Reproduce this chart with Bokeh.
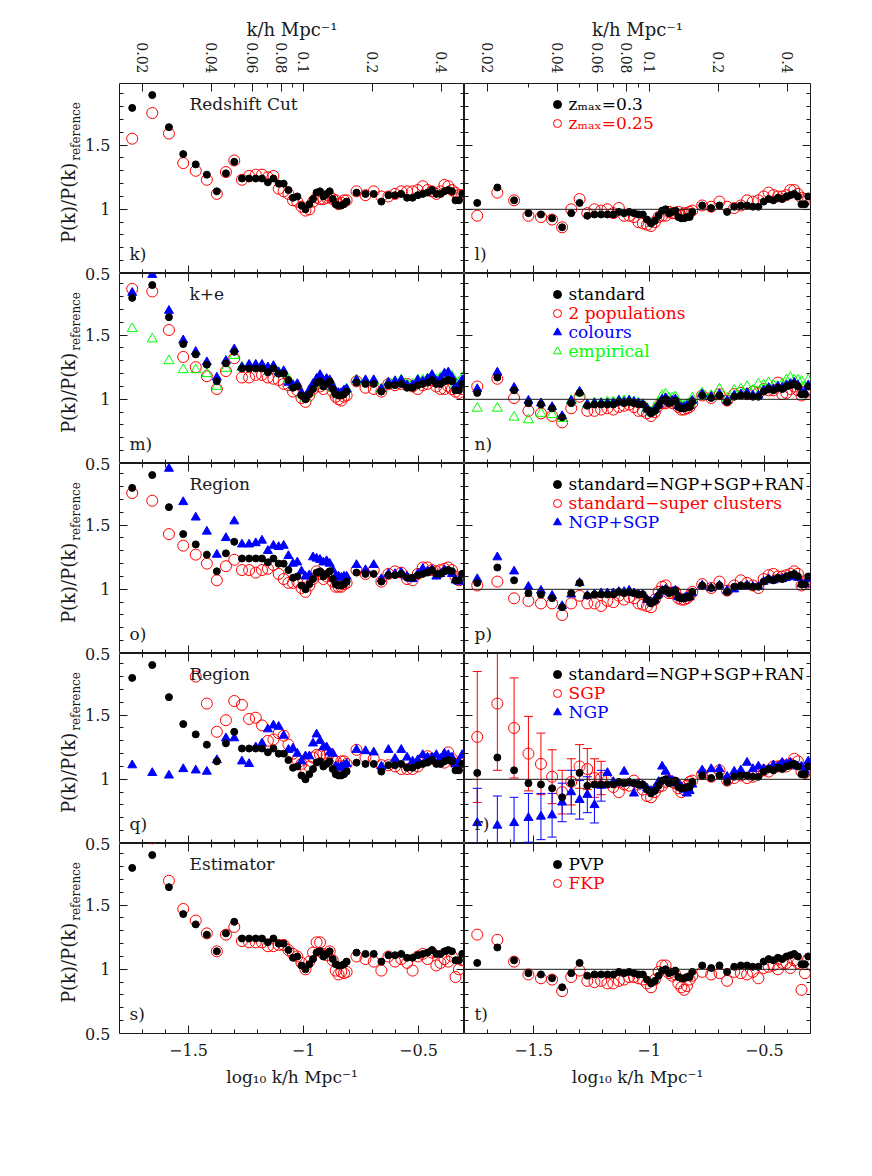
import math
import numpy as np
from bokeh.plotting import figure
from bokeh.layouts import column, row
from bokeh.models import (Range1d, LinearAxis, FixedTicker, CustomJSTickFormatter,
                          Label, Span, Legend, LegendItem, ColumnDataSource)
from bokeh.core.properties import value
from bokeh.embed import file_html
from bokeh.resources import INLINE

# ---------------- data ----------------
# k bins (h/Mpc)
K_BINS = [0.018, 0.022, 0.026, 0.030, 0.034, 0.038, 0.042, 0.046, 0.050, 0.054,
          0.058, 0.062, 0.066, 0.070, 0.074, 0.078, 0.082, 0.086, 0.090, 0.094,
          0.098, 0.102, 0.106, 0.110, 0.114, 0.118, 0.122, 0.126, 0.130, 0.134,
          0.138, 0.142, 0.146, 0.150, 0.154,
          0.170, 0.186, 0.202, 0.218, 0.234, 0.250, 0.266, 0.282, 0.298, 0.314,
          0.330, 0.346, 0.362, 0.378, 0.394, 0.410, 0.426, 0.442, 0.458, 0.474, 0.490]

# standard ratio, left column
STD_LEFT = [1.79, 1.89, 1.64, 1.43, 1.35, 1.27, 1.14, 1.28, 1.37, 1.24,
            1.24, 1.24, 1.24, 1.21, 1.24, 1.20, 1.20, 1.15, 1.09, 1.10,
            1.03, 1.00, 1.04, 1.08, 1.13, 1.14, 1.10, 1.12, 1.14, 1.08,
            1.04, 1.03, 1.03, 1.04, 1.06,
            1.13, 1.12, 1.12, 1.06, 1.11, 1.11, 1.12, 1.09, 1.09, 1.11,
            1.12, 1.13, 1.15, 1.12, 1.12, 1.14, 1.15, 1.14, 1.07, 1.07, 1.12]
# standard ratio, right column
STD_RIGHT = [1.05, 1.17, 1.07, 0.97, 0.96, 0.93, 0.86, 0.97, 1.05, 0.95,
             0.96, 0.96, 0.96, 0.96, 0.98, 0.97, 0.98, 0.97, 0.96, 0.96,
             0.92, 0.89, 0.91, 0.95, 0.99, 1.00, 0.97, 0.98, 0.99, 0.94,
             0.93, 0.93, 0.94, 0.94, 0.98,
             1.03, 1.01, 1.03, 0.98, 1.02, 1.03, 1.03, 1.02, 1.02, 1.06,
             1.08, 1.07, 1.09, 1.08, 1.10, 1.11, 1.12, 1.10, 1.04, 1.04, 1.10]

# k) / l) redshift cut z_max = 0.25
RED_K = [1.55, 1.75, 1.59, 1.36, 1.30, 1.23, 1.12, 1.29, 1.38, 1.23,
         1.26, 1.27, 1.27, 1.25, 1.26, 1.16, 1.14, 1.12, 1.07, 1.06,
         1.02, 0.99, 1.00, 1.06, 1.09, 1.08, 1.08, 1.09, 1.10, 1.08,
         1.07, 1.04, 1.05, 1.07, 1.07,
         1.14, 1.11, 1.14, 1.10, 1.10, 1.12, 1.14, 1.14, 1.14, 1.15,
         1.18, 1.15, 1.14, 1.12, 1.14, 1.19, 1.18, 1.15, 1.13, 1.11, 1.11]
RED_L = [0.95, 1.13, 1.07, 0.95, 0.94, 0.92, 0.86, 1.00, 1.08, 0.97,
         1.00, 0.99, 1.00, 0.97, 1.01, 0.95, 0.95, 0.94, 0.90, 0.89,
         0.88, 0.87, 0.90, 0.94, 0.95, 0.95, 0.98, 0.97, 0.97, 0.98,
         0.95, 0.97, 0.97, 0.98, 0.99,
         1.03, 1.02, 1.06, 1.02, 1.01, 1.03, 1.07, 1.06, 1.07, 1.10,
         1.13, 1.11, 1.10, 1.10, 1.11, 1.15, 1.15, 1.12, 1.09, 1.08, 1.08]

# m) / n) k+e corrections
RED_M = [1.86, 1.84, 1.54, 1.33, 1.25, 1.18, 1.08, 1.22, 1.32, 1.17,
         1.17, 1.19, 1.19, 1.17, 1.16, 1.15, 1.12, 1.11, 1.06, 1.07,
         1.01, 0.98, 1.03, 1.08, 1.12, 1.10, 1.08, 1.12, 1.11, 1.06,
         1.02, 1.00, 0.99, 1.02, 1.03,
         1.14, 1.09, 1.08, 1.06, 1.12, 1.11, 1.12, 1.12, 1.10, 1.08,
         1.11, 1.12, 1.15, 1.10, 1.08, 1.08, 1.10, 1.08, 1.06, 1.05, 1.08]
BLUE_M = [1.83, 1.97, 1.69, 1.46, 1.37, 1.29, 1.17, 1.30, 1.39, 1.25,
          1.27, 1.27, 1.27, 1.25, 1.26, 1.21, 1.22, 1.13, 1.11, 1.12,
          1.05, 1.02, 1.07, 1.12, 1.16, 1.19, 1.14, 1.16, 1.15, 1.10,
          1.06, 1.05, 1.05, 1.07, 1.08,
          1.15, 1.15, 1.15, 1.08, 1.13, 1.14, 1.15, 1.11, 1.11, 1.15,
          1.14, 1.16, 1.19, 1.14, 1.16, 1.20, 1.21, 1.17, 1.10, 1.11, 1.15]
GREEN_M = [1.55, 1.47, 1.30, 1.23, 1.23, 1.20, 1.10, 1.24, 1.34, 1.25,
           1.26, 1.26, 1.26, 1.24, 1.25, 1.21, 1.20, 1.15, 1.11, 1.10,
           1.04, 1.01, 1.05, 1.10, 1.15, 1.17, 1.12, 1.15, 1.14, 1.09,
           1.05, 1.04, 1.04, 1.06, 1.08,
           1.15, 1.14, 1.14, 1.08, 1.13, 1.14, 1.15, 1.12, 1.12, 1.15,
           1.15, 1.16, 1.18, 1.15, 1.17, 1.20, 1.20, 1.18, 1.12, 1.13, 1.17]
RED_N = [1.10, 1.16, 1.01, 0.91, 0.89, 0.87, 0.82, 0.93, 1.02, 0.91,
         0.91, 0.92, 0.93, 0.92, 0.94, 0.95, 0.96, 0.94, 0.91, 0.91,
         0.89, 0.87, 0.90, 0.95, 0.97, 0.97, 0.98, 0.97, 0.98, 0.94,
         0.92, 0.92, 0.93, 0.94, 0.97,
         1.03, 1.01, 1.04, 0.99, 1.04, 1.05, 1.04, 1.06, 1.05, 1.08,
         1.07, 1.07, 1.13, 1.04, 1.05, 1.08, 1.10, 1.07, 1.03, 1.06, 1.06]
BLUE_N = [1.08, 1.21, 1.09, 0.99, 0.97, 0.94, 0.87, 0.99, 1.06, 0.96,
          0.97, 0.97, 0.97, 0.97, 0.99, 0.98, 0.99, 0.98, 0.97, 0.96,
          0.93, 0.90, 0.92, 0.96, 1.00, 1.01, 0.98, 0.99, 1.00, 0.95,
          0.94, 0.94, 0.95, 0.95, 0.99,
          1.04, 1.02, 1.04, 0.99, 1.03, 1.04, 1.05, 1.03, 1.03, 1.07,
          1.09, 1.08, 1.10, 1.09, 1.11, 1.12, 1.13, 1.11, 1.05, 1.05, 1.11]
GREEN_N = [0.93, 0.93, 0.86, 0.84, 0.89, 0.88, 0.85, 0.99, 1.05, 0.96,
           0.97, 0.97, 0.98, 0.98, 0.99, 0.99, 0.99, 0.98, 0.97, 0.96,
           0.93, 0.90, 0.93, 0.98, 1.03, 1.04, 1.01, 1.01, 1.02, 0.97,
           0.95, 0.95, 0.96, 0.97, 1.01,
           1.05, 1.03, 1.08, 1.01, 1.07, 1.08, 1.10, 1.07, 1.12, 1.11,
           1.13, 1.11, 1.10, 1.12, 1.15, 1.17, 1.15, 1.15, 1.14, 1.10, 1.15]

# o) / p) region: super clusters removed, NGP+SGP
RED_O = [1.75, 1.69, 1.43, 1.34, 1.27, 1.20, 1.07, 1.18, 1.23, 1.15,
         1.15, 1.13, 1.15, 1.16, 1.19, 1.12, 1.08, 1.05, 1.05, 1.06,
         1.01, 0.98, 1.03, 1.08, 1.14, 1.12, 1.08, 1.10, 1.12, 1.06,
         1.02, 1.02, 1.02, 1.04, 1.05,
         1.15, 1.12, 1.15, 1.06, 1.12, 1.14, 1.13, 1.08, 1.07, 1.12,
         1.17, 1.17, 1.15, 1.14, 1.15, 1.16, 1.17, 1.15, 1.10, 1.07, 1.10]
BLUE_O = [2.05, 2.20, 1.94, 1.68, 1.56, 1.45, 1.27, 1.40, 1.53, 1.35,
          1.35, 1.36, 1.38, 1.30, 1.34, 1.33, 1.34, 1.26, 1.20, 1.21,
          1.14, 1.10, 1.11, 1.25, 1.24, 1.23, 1.21, 1.22, 1.20, 1.15,
          1.10, 1.10, 1.09, 1.10, 1.10,
          1.19, 1.15, 1.19, 1.08, 1.12, 1.12, 1.13, 1.10, 1.08, 1.12,
          1.16, 1.14, 1.15, 1.10, 1.12, 1.15, 1.14, 1.12, 1.07, 1.06, 1.11]
RED_P = [1.03, 1.06, 0.93, 0.91, 0.89, 0.89, 0.80, 0.89, 0.95, 0.89,
         0.89, 0.87, 0.91, 0.90, 0.95, 0.92, 0.94, 0.93, 0.89, 0.88,
         0.87, 0.86, 0.92, 0.98, 1.02, 1.03, 0.97, 0.97, 0.98, 0.93,
         0.92, 0.92, 0.93, 0.95, 0.98,
         1.04, 1.01, 1.06, 0.99, 1.03, 1.07, 1.05, 1.03, 1.01, 1.08,
         1.11, 1.12, 1.10, 1.10, 1.11, 1.12, 1.14, 1.12, 1.03, 1.04, 1.08]
BLUE_P = [1.08, 1.25, 1.14, 1.02, 0.99, 0.95, 0.87, 0.96, 1.05, 0.95,
          0.96, 0.97, 0.97, 0.97, 0.98, 0.98, 0.99, 0.97, 0.96, 0.96,
          0.92, 0.90, 0.92, 0.96, 0.99, 1.00, 0.98, 0.98, 0.99, 0.94,
          0.93, 0.93, 0.94, 0.94, 0.97,
          1.03, 1.01, 1.03, 0.99, 1.00, 1.02, 1.03, 1.02, 1.02, 1.06,
          1.08, 1.07, 1.08, 1.08, 1.09, 1.10, 1.10, 1.09, 1.04, 1.04, 1.08]

# q) / r) region: SGP and NGP separately
RED_Q = [2.30, 2.50, 2.40, 2.20, 1.80, 1.59, 1.37, 1.46, 1.61, 1.58,
         1.47, 1.48, 1.42, 1.30, 1.31, 1.36, 1.34, 1.27, 1.20, 1.15,
         1.12, 1.07, 1.10, 1.17, 1.19, 1.19, 1.20, 1.19, 1.20, 1.15,
         1.14, 1.10, 1.14, 1.14, 1.12,
         1.23, 1.17, 1.16, 1.11, 1.11, 1.10, 1.08, 1.08, 1.08, 1.10,
         1.16, 1.18, 1.16, 1.15, 1.14, 1.13, 1.21, 1.16, 1.12, 1.10, 1.12]
BLUE_Q = [1.11, 1.05, 1.03, 1.08, 1.07, 1.06, 1.15, 1.32, 1.32, 1.14,
          1.12, 1.25, 1.28, 1.39, 1.42, 1.41, 1.34, 1.23, 1.24, 1.20,
          1.14, 1.18, 1.18, 1.28, 1.35, 1.30, 1.25, 1.25, 1.21, 1.20,
          1.10, 1.09, 1.10, 1.11, 1.12,
          1.23, 1.22, 1.21, 1.10, 1.23, 1.16, 1.23, 1.17, 1.14, 1.15,
          1.19, 1.17, 1.17, 1.19, 1.16, 1.20, 1.19, 1.17, 1.12, 1.14, 1.19]
RED_R = [1.33, 1.59, 1.40, 1.20, 1.12, 1.02, 0.90, 0.98, 1.10, 1.08,
         1.01, 1.01, 0.99, 0.94, 0.90, 0.96, 0.95, 0.99, 0.96, 0.92,
         0.87, 0.86, 0.90, 0.94, 0.95, 0.98, 0.99, 0.98, 0.97, 0.93,
         0.90, 0.92, 0.95, 0.98, 0.99,
         1.04, 1.02, 1.07, 0.99, 1.01, 1.03, 1.01, 1.02, 1.05, 1.07,
         1.06, 1.10, 1.10, 1.11, 1.10, 1.12, 1.16, 1.14, 1.06, 1.05, 1.08]
BLUE_R = [0.66, 0.64, 0.66, 0.70, 0.71, 0.72, 0.82, 0.90, 0.84, 0.88,
          0.80, 0.95, 1.05, 0.98, 0.97, 1.06, 0.97, 0.89, 0.96, 0.95,
          0.93, 0.91, 0.93, 0.98, 1.10, 1.06, 1.00, 0.99, 0.97, 0.97,
          0.94, 0.92, 0.89, 0.91, 0.96,
          1.07, 1.08, 1.08, 1.02, 1.06, 1.07, 1.13, 1.08, 1.10, 1.08,
          1.08, 1.11, 1.10, 1.13, 1.12, 1.13, 1.11, 1.10, 1.10, 1.07, 1.14]
# 1-sigma errors on the first bins of r)
SGP_ERR = [0.51, 0.52, 0.39, 0.29, 0.24, 0.21, 0.17, 0.18, 0.17, 0.16, 0.15, 0.13]
NGP_ERR = [0.27, 0.23, 0.20, 0.19, 0.18, 0.17, 0.15, 0.17, 0.15, 0.14, 0.14, 0.12]

# s) / t) estimator: FKP
RED_S = [2.16, 2.02, 1.69, 1.47, 1.38, 1.28, 1.14, 1.27, 1.33, 1.22,
         1.21, 1.21, 1.21, 1.18, 1.18, 1.19, 1.19, 1.15, 1.12, 1.10,
         1.05, 1.00, 1.06, 1.13, 1.21, 1.21, 1.12, 1.11, 1.14, 1.07,
         0.99, 0.96, 0.98, 0.97, 0.98,
         1.10, 1.08, 1.06, 0.99, 1.10, 1.06, 1.08, 1.05, 0.99, 1.10,
         1.12, 1.08, 1.13, 1.03, 1.05, 1.08, 1.06, 1.10, 0.94, 1.00, 1.07]
RED_T = [1.27, 1.23, 1.06, 0.96, 0.93, 0.92, 0.83, 0.94, 0.99, 0.91,
         0.90, 0.91, 0.89, 0.89, 0.91, 0.92, 0.94, 0.94, 0.93, 0.92,
         0.89, 0.86, 0.92, 0.98, 1.03, 1.03, 0.97, 0.95, 0.96, 0.89,
         0.86, 0.84, 0.87, 0.92, 0.95,
         0.98, 0.96, 0.97, 0.91, 0.98, 0.97, 0.96, 0.98, 0.93, 1.01,
         1.02, 1.03, 1.00, 1.05, 1.05, 1.01, 1.07, 1.05, 0.84, 0.97, 1.08]

TITLES = ["Redshift Cut", "k+e", "Region", "Region", "Estimator"]
LETTERS = [("k)", "l)"), ("m)", "n)"), ("o)", "p)"), ("q)", "r)"), ("s)", "t)")]
K_MAJOR = [0.02, 0.04, 0.06, 0.08, 0.1, 0.2, 0.4]
K_MINOR = [0.03, 0.05, 0.07, 0.09, 0.3]
Y_MAJOR = [0.5, 1.0, 1.5]

# ---------------- styling ----------------
FONT = "DejaVu Serif"
INK = "#1a1a1a"
XMIN, XMAX = -1.8, -0.3
YMIN, YMAX = 0.5, 1.98
HSPAN = YMAX - YMIN
NROWS = 5
STRIP_W = 119
FRAME_W = (345, 346)
FRAME_H = 190
PX_PER_UNIT = FRAME_H / HSPAN
RIGHT_B, TOP_B, BOTTOM_B = 40, 83, 100

X_MAJOR = [-1.5, -1.0, -0.5]
X_MINOR = [round(-1.7 + 0.1 * i, 1) for i in range(14)]
Y_MINOR = [round(0.6 + 0.1 * i, 1) for i in range(14)]

STYLE = {
    "black": dict(marker="circle", size=7, fill_color="black", line_color="black", line_width=1),
    "red": dict(marker="circle", size=11, fill_color=None, line_color="#ff0000", line_width=1),
    "blue": dict(marker="triangle", size=9, fill_color="#0000ff", line_color="#0000ff", line_width=1),
    "green": dict(marker="triangle", size=10, fill_color=None, line_color="#00ff00", line_width=1),
}
TEXT_COLOR = {"black": "black", "red": "#ff0000", "blue": "#0000ff", "green": "#00ff00"}
ORDER = ["red", "green", "blue", "black"]

PANELS = [
    ({"red": RED_K, "black": STD_LEFT},
     {"red": RED_L, "black": STD_RIGHT},
     [("black", "z\u2098\u2090\u2093=0.3"), ("red", "z\u2098\u2090\u2093=0.25")]),
    ({"red": RED_M, "green": GREEN_M, "blue": BLUE_M, "black": STD_LEFT},
     {"red": RED_N, "green": GREEN_N, "blue": BLUE_N, "black": STD_RIGHT},
     [("black", "standard"), ("red", "2 populations"), ("blue", "colours"), ("green", "empirical")]),
    ({"red": RED_O, "blue": BLUE_O, "black": STD_LEFT},
     {"red": RED_P, "blue": BLUE_P, "black": STD_RIGHT},
     [("black", "standard=NGP+SGP+RAN"), ("red", "standard\u2212super clusters"), ("blue", "NGP+SGP")]),
    ({"red": RED_Q, "blue": BLUE_Q, "black": STD_LEFT},
     {"red": RED_R, "blue": BLUE_R, "black": STD_RIGHT},
     [("black", "standard=NGP+SGP+RAN"), ("red", "SGP"), ("blue", "NGP")]),
    ({"red": RED_S, "black": STD_LEFT},
     {"red": RED_T, "black": STD_RIGHT},
     [("black", "PVP"), ("red", "FKP")]),
]
ERRORS_R = {"red": SGP_ERR, "blue": NGP_ERR}
LEGEND_ROWS = [20.7, 40.0, 59.3, 78.3]   # px from frame top

for arr in [STD_LEFT, STD_RIGHT, RED_K, RED_L, RED_M, BLUE_M, GREEN_M, RED_N, BLUE_N, GREEN_N,
            RED_O, BLUE_O, RED_P, BLUE_P, RED_Q, BLUE_Q, RED_R, BLUE_R, RED_S, RED_T]:
    assert len(arr) == len(K_BINS), len(arr)

LOGK = np.log10(np.array(K_BINS))


def fmt(code):
    return CustomJSTickFormatter(code=code)


def style_axis(ax, size="16px"):
    ax.axis_line_color = None
    ax.major_tick_line_color = INK
    ax.minor_tick_line_color = INK
    ax.major_tick_in = 8
    ax.major_tick_out = 0
    ax.minor_tick_in = 4
    ax.minor_tick_out = 0
    ax.major_label_text_font = FONT
    ax.major_label_text_font_size = size
    ax.major_label_text_color = INK
    ax.axis_label_text_font = FONT
    ax.axis_label_text_font_style = "normal"
    ax.axis_label_text_color = INK


def add_axes(p, r, c):
    # bottom
    if r == NROWS - 1:
        b = LinearAxis(ticker=FixedTicker(ticks=X_MAJOR, minor_ticks=X_MINOR),
                       formatter=fmt("return (tick < 0 ? '\u2212' : '') + Math.abs(tick);"),
                       axis_label="log\u2081\u2080 k/h Mpc\u207b\u00b9")
        style_axis(b)
        b.major_label_standoff = 10
        b.axis_label_standoff = 8
        b.axis_label_text_font_size = "17px"
    else:
        b = LinearAxis(ticker=FixedTicker(ticks=X_MAJOR, minor_ticks=X_MINOR),
                       formatter=fmt("return '';"), fixed_location=YMIN)
        style_axis(b)
    p.add_layout(b, "below")

    # top
    if r == 0:
        t = LinearAxis(ticker=FixedTicker(ticks=list(np.log10(K_MAJOR)), minor_ticks=list(np.log10(K_MINOR))),
                       formatter=fmt("return String(Math.round(Math.pow(10, tick) * 1000) / 1000);"),
                       axis_label="k/h Mpc\u207b\u00b9")
        style_axis(t, size="14px")
        t.major_label_orientation = -math.pi / 2
        t.major_label_standoff = 10
        t.axis_label_standoff = -1
        t.axis_label_text_font_size = "18px"
    else:
        t = LinearAxis(ticker=FixedTicker(ticks=X_MAJOR, minor_ticks=X_MINOR),
                       formatter=fmt("return '';"), fixed_location=YMAX)
        style_axis(t)
    p.add_layout(t, "above")

    # left / right: ticks only (labels live in the strip)
    lft = LinearAxis(ticker=FixedTicker(ticks=Y_MAJOR, minor_ticks=Y_MINOR),
                     formatter=fmt("return '';"), fixed_location=XMIN)
    style_axis(lft)
    p.add_layout(lft, "left")
    rgt = LinearAxis(ticker=FixedTicker(ticks=Y_MAJOR, minor_ticks=Y_MINOR),
                     formatter=fmt("return '';"), fixed_location=XMAX)
    style_axis(rgt)
    p.add_layout(rgt, "right")


def label(p, text, x, y, xo=0, yo=0, size="17px", color=INK, align="left", angle=0.0):
    p.add_layout(Label(x=x, y=y, x_offset=xo, y_offset=yo, text=text, text_font=FONT,
                       text_font_size=size, text_color=color, text_align=align,
                       text_baseline="middle", angle=angle))


def borders(r):
    return dict(min_border_top=TOP_B if r == 0 else 0,
                min_border_bottom=BOTTOM_B if r == NROWS - 1 else 0)


# ---- left strip: y tick labels and y-axis titles for all five rows (stacked units) ----
strip_h = TOP_B + NROWS * FRAME_H + BOTTOM_B
strip = figure(frame_width=STRIP_W, frame_height=strip_h,
               x_range=Range1d(0, STRIP_W),
               y_range=Range1d(-BOTTOM_B / PX_PER_UNIT, NROWS * HSPAN + TOP_B / PX_PER_UNIT),
               x_axis_type=None, y_axis_type=None,
               output_backend="svg", toolbar_location=None,
               min_border_left=0, min_border_right=0, min_border_top=0, min_border_bottom=0)
strip.outline_line_color = None
strip_ticks = [(NROWS - 1 - r) * HSPAN + (v - YMIN) for r in range(NROWS) for v in Y_MAJOR]
yax = LinearAxis(ticker=FixedTicker(ticks=strip_ticks, minor_ticks=[]),
                 formatter=fmt("const H = %r; const k = Math.floor(tick / H + 1e-6);"
                               " const v = tick - k * H + %r; return String(Math.round(v * 10) / 10);"
                               % (HSPAN, YMIN)),
                 fixed_location=STRIP_W)
style_axis(yax)
yax.major_tick_in = 0
yax.minor_tick_in = 0
yax.major_label_standoff = 9
strip.add_layout(yax, "left")
for r in range(NROWS):
    base = (NROWS - 1 - r) * HSPAN
    label(strip, "P(k)/P(k)", 68, base + 1.362 - YMIN, size="18px", align="right", angle=math.pi / 2)
    label(strip, "reference", 75, base + 1.362 - YMIN, yo=2, size="12px", align="left", angle=math.pi / 2)

rows = []
for r, (left_series, right_series, legend_items) in enumerate(PANELS):
    figs = []
    for c in (0, 1):
        p = figure(frame_width=FRAME_W[c], frame_height=FRAME_H,
                   x_range=Range1d(XMIN, XMAX), y_range=Range1d(YMIN, YMAX),
                   x_axis_type=None, y_axis_type=None,
                   output_backend="svg", toolbar_location=None,
                   min_border_left=0,
                   min_border_right=0 if c == 0 else RIGHT_B,
                   **borders(r))
        p.outline_line_color = INK
        p.outline_line_width = 1
        p.background_fill_color = "white"
        p.border_fill_color = "white"
        add_axes(p, r, c)

        series = left_series if c == 0 else right_series
        renderers = {}
        if c == 1:
            p.add_layout(Span(location=1.0, dimension="width", line_color=INK, line_width=1))
            if r == 3:
                for key, errs in ERRORS_R.items():
                    n = len(errs)
                    yv = np.array(series[key][:n])
                    ev = np.array(errs)
                    src = ColumnDataSource(dict(x=LOGK[:n], lo=yv - ev, hi=yv + ev))
                    p.segment(x0="x", y0="lo", x1="x", y1="hi", source=src,
                              line_color=STYLE[key]["line_color"], line_width=1)
                    p.scatter(x="x", y="lo", source=src, marker="dash", size=9,
                              line_color=STYLE[key]["line_color"], line_width=1)
                    p.scatter(x="x", y="hi", source=src, marker="dash", size=9,
                              line_color=STYLE[key]["line_color"], line_width=1)
        for key in ORDER:
            if key in series:
                src = ColumnDataSource(dict(x=LOGK, y=series[key]))
                renderers[key] = p.scatter(x="x", y="y", source=src, **STYLE[key])

        label(p, LETTERS[r][c], XMIN, 0.653, xo=10)
        if c == 0:
            label(p, TITLES[r], XMIN, 1.82, xo=70)
        else:
            for i, (key, text) in enumerate(legend_items):
                cy = LEGEND_ROWS[i]
                leg = Legend(items=[LegendItem(label=value(text), renderers=[renderers[key]])],
                             location=(82.5, FRAME_H - cy - 10),
                             glyph_width=20, glyph_height=20, label_height=20, label_standoff=2,
                             padding=0, margin=0, spacing=0,
                             border_line_color=None, background_fill_alpha=0,
                             label_text_font=FONT, label_text_font_size="17px",
                             label_text_color=TEXT_COLOR[key])
                p.add_layout(leg)
        figs.append(p)
    rows.append(row(*figs))

layout = row(strip, column(*rows))
open("out.html", "w").write(file_html(layout, INLINE))
